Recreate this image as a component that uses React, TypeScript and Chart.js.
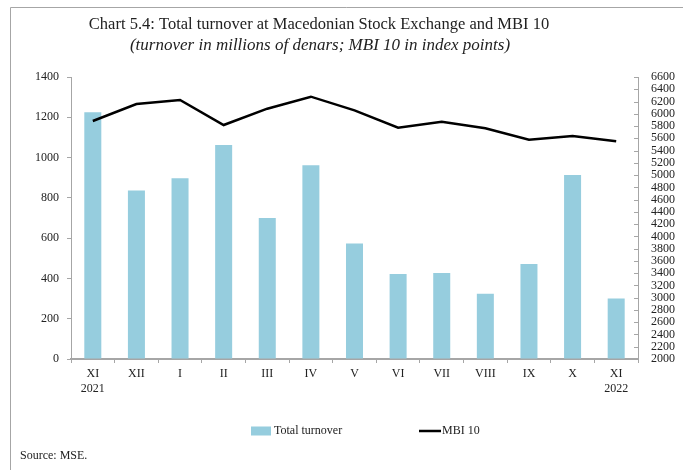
import React, { useEffect, useRef } from 'react';
import { Chart, registerables } from 'chart.js';

Chart.register(...registerables);

const categories: string[][] = [
  ['XI', '2021'], ['XII'], ['I'], ['II'], ['III'], ['IV'], ['V'],
  ['VI'], ['VII'], ['VIII'], ['IX'], ['X'], ['XI', '2022'],
];
const turnover = [1225, 836, 897, 1063, 700, 962, 573, 422, 427, 324, 472, 914, 300];
const mbi10 = [5882, 6160, 6225, 5817, 6083, 6279, 6055, 5773, 5871, 5763, 5577, 5638, 5551];

const leftMin = 0;
const leftMax = 1400;
const leftStep = 200;
const rightMin = 2000;
const rightMax = 6600;
const rightStep = 200;

const titleText = 'Chart 5.4: Total turnover at Macedonian Stock Exchange and MBI 10';
const subtitleText = '(turnover in millions of denars; MBI 10 in index points)';
const seriesNames = ['Total turnover', 'MBI 10'];
const sourceText = 'Source: MSE.';

const BAR_COLOR = 'rgb(150, 205, 222)';
const LINE_COLOR = '#000000';
const AXIS_COLOR = '#a6a6a6';
const TEXT_COLOR = '#222222';
const FONT = '"Liberation Serif", "DejaVu Serif", serif';

const plain = (v: any) => String(v);

const extras = {
  id: 'extras',
  afterDraw(chart: any) {
    const ctx = chart.ctx as CanvasRenderingContext2D;
    ctx.save();
    // frame
    ctx.strokeStyle = AXIS_COLOR;
    ctx.lineWidth = 1;
    ctx.beginPath();
    ctx.moveTo(10.5, 470);
    ctx.lineTo(10.5, 7.5);
    ctx.lineTo(683, 7.5);
    ctx.stroke();

    // titles
    ctx.fillStyle = TEXT_COLOR;
    ctx.textAlign = 'center';
    ctx.textBaseline = 'middle';
    ctx.font = `16.5px ${FONT}`;
    ctx.fillText(titleText, 319, 25);
    ctx.font = `italic 17px ${FONT}`;
    ctx.fillText(subtitleText, 320, 46);

    // inward ticks on right axis
    const y2 = chart.scales.y2;
    ctx.strokeStyle = AXIS_COLOR;
    ctx.lineWidth = 1;
    ctx.beginPath();
    y2.ticks.forEach((t: any) => {
      const y = Math.round(y2.getPixelForValue(t.value)) + 0.5;
      ctx.moveTo(y2.left, y);
      ctx.lineTo(y2.left - 4, y);
    });
    ctx.stroke();

    // legend
    const ly = 431;
    ctx.fillStyle = BAR_COLOR;
    ctx.fillRect(251, ly - 4.5, 20, 9);
    ctx.strokeStyle = LINE_COLOR;
    ctx.lineWidth = 2.5;
    ctx.beginPath();
    ctx.moveTo(419, ly);
    ctx.lineTo(441, ly);
    ctx.stroke();
    ctx.fillStyle = TEXT_COLOR;
    ctx.textAlign = 'left';
    ctx.font = `12px ${FONT}`;
    ctx.fillText(seriesNames[0], 274, ly);
    ctx.fillText(seriesNames[1], 442, ly);

    // source
    ctx.fillText(sourceText, 20, 456);
    ctx.restore();
  },
};

export default function App() {
  const ref = useRef<HTMLCanvasElement>(null);

  useEffect(() => {
    if (!ref.current) return;
    const chart = new Chart(ref.current, {
      type: 'bar',
      data: {
        labels: categories as any,
        datasets: [
          {
            type: 'line',
            label: seriesNames[1],
            data: mbi10,
            yAxisID: 'y2',
            borderColor: LINE_COLOR,
            borderWidth: 2.5,
            pointRadius: 0,
            tension: 0,
            order: 0,
          } as any,
          {
            type: 'bar',
            label: seriesNames[0],
            data: turnover,
            yAxisID: 'y',
            backgroundColor: BAR_COLOR,
            borderWidth: 0,
            categoryPercentage: 1,
            barPercentage: 0.39,
            order: 1,
          },
        ],
      },
      options: {
        responsive: false,
        animation: false,
        layout: { padding: { top: 77, left: 0, right: 0, bottom: 71 } },
        plugins: {
          legend: { display: false },
          title: { display: false },
          tooltip: { enabled: false },
        },
        scales: {
          x: {
            offset: true,
            grid: {
              offset: true,
              drawOnChartArea: false,
              tickLength: 4,
              color: AXIS_COLOR,
            },
            border: { color: AXIS_COLOR, width: 2 },
            ticks: {
              color: TEXT_COLOR,
              font: { family: FONT, size: 12 },
              padding: 4,
              maxRotation: 0,
              autoSkip: false,
            },
            afterFit: (s: any) => { s.height = 40; },
          },
          y: {
            position: 'left',
            min: leftMin,
            max: leftMax,
            grid: { drawOnChartArea: false, tickLength: 4, color: AXIS_COLOR },
            border: { color: AXIS_COLOR, width: 1 },
            ticks: {
              stepSize: leftStep,
              color: TEXT_COLOR,
              font: { family: FONT, size: 12 },
              padding: 8,
              callback: plain,
            },
            afterFit: (s: any) => { s.width = 71; },
          },
          y2: {
            position: 'right',
            min: rightMin,
            max: rightMax,
            grid: { drawOnChartArea: false, drawTicks: false },
            border: { color: AXIS_COLOR, width: 1 },
            ticks: {
              stepSize: rightStep,
              color: TEXT_COLOR,
              font: { family: FONT, size: 12 },
              padding: 13,
              autoSkip: false,
              callback: plain,
            },
            afterFit: (s: any) => { s.width = 45; },
          },
        },
      },
      plugins: [extras],
    });
    return () => chart.destroy();
  }, []);

  return (
    <div style={{ position: 'absolute', left: 0, top: 0, width: 683, height: 470, background: '#fff' }}>
      <canvas ref={ref} width={683} height={470} style={{ display: 'block' }} />
    </div>
  );
}
